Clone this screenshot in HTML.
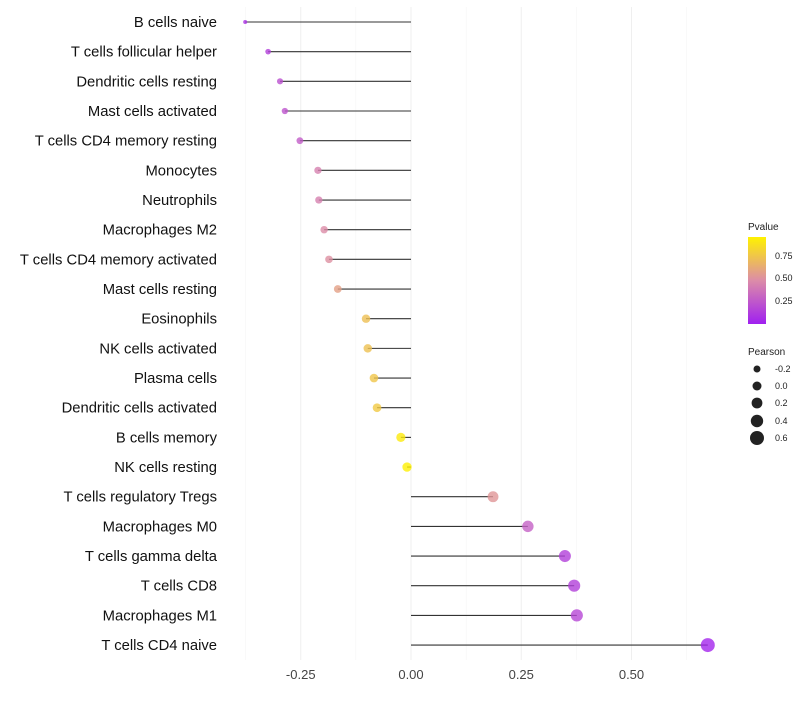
<!DOCTYPE html>
<html><head><meta charset="utf-8"><style>
body{margin:0;background:#fff;font-family:"Liberation Sans",sans-serif}
</style></head><body>
<svg id="c" width="800" height="700">
<defs><linearGradient id="pg" x1="0" y1="1" x2="0" y2="0">
<stop offset="0" stop-color="#a020f0"/><stop offset="0.5" stop-color="#dc8ca8"/><stop offset="1" stop-color="#fff200"/></linearGradient></defs>
<g id="grid"></g><g id="marks"></g><g id="labels"></g>
<g font-size="9" fill="#222">
<text x="748" y="230" font-size="10">Pvalue</text>
<rect x="748" y="237" width="18" height="87" fill="url(#pg)"/>
<text x="775" y="259">0.75</text><text x="775" y="281">0.50</text><text x="775" y="304">0.25</text>
</g>
<g font-size="9" fill="#222">
<text x="748" y="355" font-size="10">Pearson</text>
<circle cx="757" cy="369" r="3.5"/><circle cx="757" cy="386" r="4.5"/><circle cx="757" cy="403" r="5.4"/><circle cx="757" cy="421" r="6.2"/><circle cx="757" cy="438" r="7"/>
<text x="775" y="372">-0.2</text><text x="775" y="389">0.0</text><text x="775" y="406">0.2</text><text x="775" y="424">0.4</text><text x="775" y="441">0.6</text>
</g>
</svg>
<script>
const cells=["B cells naive","T cells follicular helper","Dendritic cells resting","Mast cells activated","T cells CD4 memory resting","Monocytes","Neutrophils","Macrophages M2","T cells CD4 memory activated","Mast cells resting","Eosinophils","NK cells activated","Plasma cells","Dendritic cells activated","B cells memory","NK cells resting","T cells regulatory  Tregs","Macrophages M0","T cells gamma delta","T cells CD8","Macrophages M1","T cells CD4 naive"];
const pearson=[-0.376,-0.324,-0.297,-0.286,-0.252,-0.211,-0.209,-0.197,-0.186,-0.166,-0.102,-0.098,-0.084,-0.077,-0.023,-0.009,0.186,0.265,0.349,0.37,0.376,0.673];
const pvalue=[0.08,0.15,0.22,0.24,0.28,0.45,0.45,0.5,0.52,0.6,0.75,0.76,0.78,0.8,0.96,0.99,0.55,0.3,0.15,0.15,0.18,0.03];
const ticks=[-0.25,0,0.25,0.5];
const tickLabels=["-0.25","0.00","0.25","0.50"];
const minor=[-0.375,-0.125,0.125,0.375,0.625];
const NS="http://www.w3.org/2000/svg";
const x=v=>411+v*441;
const y=i=>22+i*29.67;
const rad=v=>2+5*Math.pow(Math.max(0,(v+0.376)/1.05),0.6);
function col(p){const s=[[160,32,240],[220,140,168],[255,242,0]];let a,b,t;if(p<0.5){a=s[0];b=s[1];t=p/0.5}else{a=s[1];b=s[2];t=(p-0.5)/0.5}return`rgb(${a.map((c,k)=>Math.round(c+(b[k]-c)*t)).join(",")})`}
function mk(t,at,g){const e=document.createElementNS(NS,t);for(const k in at)e.setAttribute(k,at[k]);document.getElementById(g).appendChild(e);return e}
minor.forEach(v=>{const l=mk("line",{x1:x(v),x2:x(v),y1:7,y2:660,stroke:"#f5f5f5","stroke-width":0.6},"grid");

});
ticks.forEach((v,i)=>{const l=mk("line",{x1:x(v),x2:x(v),y1:7,y2:660,stroke:"#efefef","stroke-width":1},"grid");


const t=mk("text",{x:x(v),y:679,"text-anchor":"middle","font-size":13,fill:"#444"},"labels");t.textContent=tickLabels[i];

});
cells.forEach((c,i)=>{
const t=mk("text",{x:217,y:y(i)+5,"text-anchor":"end","font-size":14.8,fill:"#111"},"labels");t.textContent=c;


const l=mk("line",{x1:x(0),x2:x(pearson[i]),y1:y(i),y2:y(i),stroke:"#333","stroke-width":1.1},"marks");


const p=mk("circle",{cx:x(pearson[i]),cy:y(i),r:rad(pearson[i]),fill:col(pvalue[i]),"fill-opacity":0.8},"marks");


});
</script>
</body></html>
